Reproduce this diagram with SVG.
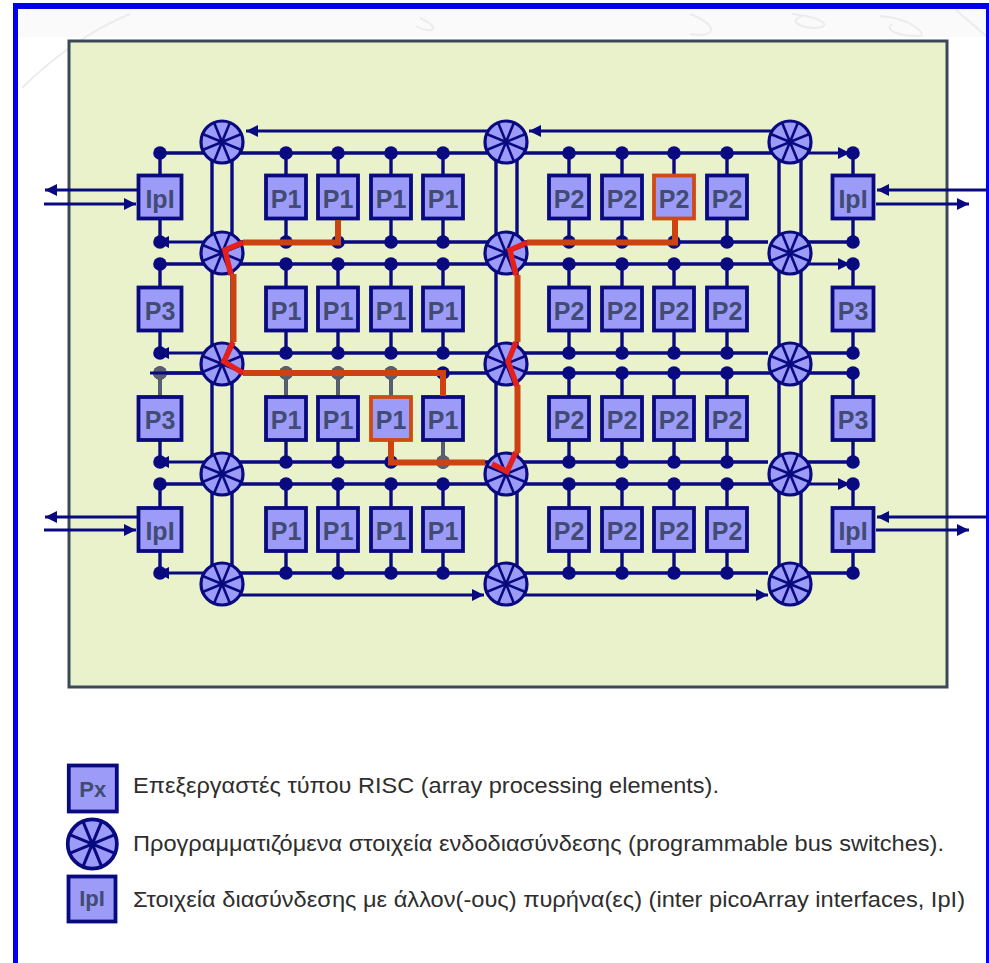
<svg xmlns="http://www.w3.org/2000/svg" width="989" height="963" viewBox="0 0 989 963">
<style>
.w{fill:none;stroke:#0a0a80;stroke-width:3.4}
.t{fill:none;stroke:#0a0a80;stroke-width:3}
.g{fill:none;stroke:#5a5f6c;stroke-width:3.4}
.b{fill:#9c9cf8;stroke:#0a0a80;stroke-width:3.8}
.h{fill:#9c9cf8;stroke:#cf4a14;stroke-width:3.8}
.l{font-family:"Liberation Sans",Arial,sans-serif;font-weight:bold;font-size:25px;fill:#414b74;text-anchor:middle}
.c{font-family:"Liberation Sans",Arial,sans-serif;font-size:22px;fill:#2e2e2e}
.r{fill:none;stroke:#cc4210;stroke-width:6;stroke-linejoin:miter}
.q{fill:none;stroke:#e4201c;stroke-width:5.5;stroke-linejoin:miter}
.s{fill:none;stroke:#ececee;stroke-width:2}
.d{fill:#0a0a80}
</style>
<defs>
<marker id="ah" viewBox="0 0 12 12" refX="12" refY="6" markerWidth="12" markerHeight="12" markerUnits="userSpaceOnUse" orient="auto"><path d="M0 0L12 6L0 12Z" fill="#0a0a80"/></marker>
<g id="sw"><circle r="21" fill="#9c9cf8" stroke="#0a0a80" stroke-width="3.2"/><path d="M-19.4-8L19.4 8M-19.4 8L19.4-8M-8-19.4L8 19.4M8-19.4L-8 19.4" fill="none" stroke="#0a0a80" stroke-width="2.6"/></g>
<path id="st" class="w" d="M0 153V174M0 220V242M0 264V286M0 332V353M0 373V396M0 441V462M0 484V507M0 552V573"/>
<g id="dt" class="d"><circle cy="153" r="6.8"/><circle cy="242" r="6.8"/><circle cy="264" r="6.8"/><circle cy="353" r="6.8"/><circle cy="373" r="6.8"/><circle cy="462" r="6.8"/><circle cy="484" r="6.8"/><circle cy="573" r="6.8"/></g>
</defs>
<rect width="989" height="963" fill="#fff"/>
<g id="backdrop">
<rect x="18" y="9" width="968" height="28" fill="#fafafb"/>
<path class="s" d="M690 14C720 26 716 38 690 34M792 14C826 18 834 28 812 28C796 26 790 20 802 16M880 16C914 18 930 38 918 36C898 36 884 30 892 24M956 10L986 36M130 14C90 30 50 60 22 88M420 18C446 30 428 34 416 26"/>
</g>
<rect id="panel" x="69" y="41" width="878" height="646" fill="#e9f2cb" stroke="#3c4858" stroke-width="3"/>
<g id="connectors">
<use href="#st" x="160"/><use href="#st" x="286"/><use href="#st" x="338"/><use href="#st" x="391"/><use href="#st" x="443"/><use href="#st" x="569"/><use href="#st" x="622"/><use href="#st" x="674"/><use href="#st" x="727"/><use href="#st" x="853"/>
<use href="#dt" x="160"/><use href="#dt" x="286"/><use href="#dt" x="338"/><use href="#dt" x="391"/><use href="#dt" x="443"/><use href="#dt" x="569"/><use href="#dt" x="622"/><use href="#dt" x="674"/><use href="#dt" x="727"/><use href="#dt" x="853"/>
<path class="w" d="M160 153H790M160 264H790M160 373H790M160 484H790M222 242H768M222 353H768M222 462H768M222 573H768M790 242H853M790 353H853M790 373H853M790 462H853M790 573H853M212 142V584M232 142V584M496 142V584M517 142V584M779 142V584M801 142V584"/>
<path class="t" marker-end="url(#ah)" d="M790 153H850"/><path class="t" marker-end="url(#ah)" d="M790 264H850"/><path class="t" marker-end="url(#ah)" d="M790 484H850"/>
<path class="t" marker-end="url(#ah)" d="M222 242H157"/><path class="t" marker-end="url(#ah)" d="M222 353H157"/><path class="t" marker-end="url(#ah)" d="M222 462H157"/><path class="t" marker-end="url(#ah)" d="M222 573H157"/>
<path class="t" marker-end="url(#ah)" d="M790 131H529"/><path class="t" marker-end="url(#ah)" d="M506 131H246"/>
<path class="t" marker-end="url(#ah)" d="M222 595H484"/><path class="t" marker-end="url(#ah)" d="M506 595H768"/>
<path class="t" marker-end="url(#ah)" d="M137 190H45"/><path class="t" marker-end="url(#ah)" d="M44 204H136"/>
<path class="t" marker-end="url(#ah)" d="M137 517H45"/><path class="t" marker-end="url(#ah)" d="M44 530H136"/>
<path class="t" marker-end="url(#ah)" d="M988 190H877"/><path class="t" marker-end="url(#ah)" d="M876 204H969"/>
<path class="t" marker-end="url(#ah)" d="M988 517H877"/><path class="t" marker-end="url(#ah)" d="M876 530H969"/>
<g id="dimmed">
<path class="g" d="M160 373V396M286 373V396M338 373V396M391 373V396M443 441V462"/>
<g fill="#5a5f6c"><circle cx="160" cy="373" r="6.8"/><circle cx="286" cy="373" r="6.8"/><circle cx="338" cy="373" r="6.8"/><circle cx="391" cy="373" r="6.8"/><circle cx="443" cy="462" r="6.8"/></g>
<path class="t" d="M150 373H212"/>
</g>
</g>
<g id="sw1"><use href="#sw" x="222" y="142"/></g>
<g id="sw2"><use href="#sw" x="222" y="253"/></g>
<g id="sw3"><use href="#sw" x="222" y="364"/></g>
<g id="sw4"><use href="#sw" x="222" y="474"/></g>
<g id="sw5"><use href="#sw" x="222" y="584"/></g>
<g id="sw6"><use href="#sw" x="506" y="142"/></g>
<g id="sw7"><use href="#sw" x="506" y="253"/></g>
<g id="sw8"><use href="#sw" x="506" y="364"/></g>
<g id="sw9"><use href="#sw" x="506" y="474"/></g>
<g id="sw10"><use href="#sw" x="506" y="584"/></g>
<g id="sw11"><use href="#sw" x="790" y="142"/></g>
<g id="sw12"><use href="#sw" x="790" y="253"/></g>
<g id="sw13"><use href="#sw" x="790" y="364"/></g>
<g id="sw14"><use href="#sw" x="790" y="474"/></g>
<g id="sw15"><use href="#sw" x="790" y="584"/></g>
<g id="ipl1" transform="translate(160 197)"><rect class="b" x="-21.5" y="-21.5" width="43" height="43"/><text class="l" y="10.5">IpI</text></g>
<g id="p3a" transform="translate(160 309)"><rect class="b" x="-21.5" y="-21.5" width="43" height="43"/><text class="l" y="10.5">P3</text></g>
<g id="p3b" transform="translate(160 418.5)"><rect class="b" x="-21.5" y="-21.5" width="43" height="43"/><text class="l" y="10.5">P3</text></g>
<g id="ipl2" transform="translate(160 529.5)"><rect class="b" x="-21.5" y="-21.5" width="43" height="43"/><text class="l" y="10.5">IpI</text></g>
<g id="ipl3" transform="translate(853 197)"><rect class="b" x="-20.5" y="-21.5" width="41" height="43"/><text class="l" y="10.5">IpI</text></g>
<g id="p3c" transform="translate(853 309)"><rect class="b" x="-20.5" y="-21.5" width="41" height="43"/><text class="l" y="10.5">P3</text></g>
<g id="p3d" transform="translate(853 418.5)"><rect class="b" x="-20.5" y="-21.5" width="41" height="43"/><text class="l" y="10.5">P3</text></g>
<g id="ipl4" transform="translate(853 529.5)"><rect class="b" x="-20.5" y="-21.5" width="41" height="43"/><text class="l" y="10.5">IpI</text></g>
<g id="a11" transform="translate(286 197)"><rect class="b" x="-20" y="-21.5" width="40" height="43"/><text class="l" y="10.5">P1</text></g>
<g id="a12" transform="translate(338 197)"><rect class="b" x="-20" y="-21.5" width="40" height="43"/><text class="l" y="10.5">P1</text></g>
<g id="a13" transform="translate(391 197)"><rect class="b" x="-20" y="-21.5" width="40" height="43"/><text class="l" y="10.5">P1</text></g>
<g id="a14" transform="translate(443 197)"><rect class="b" x="-20" y="-21.5" width="40" height="43"/><text class="l" y="10.5">P1</text></g>
<g id="a21" transform="translate(286 309)"><rect class="b" x="-20" y="-21.5" width="40" height="43"/><text class="l" y="10.5">P1</text></g>
<g id="a22" transform="translate(338 309)"><rect class="b" x="-20" y="-21.5" width="40" height="43"/><text class="l" y="10.5">P1</text></g>
<g id="a23" transform="translate(391 309)"><rect class="b" x="-20" y="-21.5" width="40" height="43"/><text class="l" y="10.5">P1</text></g>
<g id="a24" transform="translate(443 309)"><rect class="b" x="-20" y="-21.5" width="40" height="43"/><text class="l" y="10.5">P1</text></g>
<g id="a31" transform="translate(286 418.5)"><rect class="b" x="-20" y="-21.5" width="40" height="43"/><text class="l" y="10.5">P1</text></g>
<g id="a32" transform="translate(338 418.5)"><rect class="b" x="-20" y="-21.5" width="40" height="43"/><text class="l" y="10.5">P1</text></g>
<g id="a33" transform="translate(391 418.5)"><rect class="h" x="-20" y="-21.5" width="40" height="43"/><text class="l" y="10.5">P1</text></g>
<g id="a34" transform="translate(443 418.5)"><rect class="b" x="-20" y="-21.5" width="40" height="43"/><text class="l" y="10.5">P1</text></g>
<g id="a41" transform="translate(286 529.5)"><rect class="b" x="-20" y="-21.5" width="40" height="43"/><text class="l" y="10.5">P1</text></g>
<g id="a42" transform="translate(338 529.5)"><rect class="b" x="-20" y="-21.5" width="40" height="43"/><text class="l" y="10.5">P1</text></g>
<g id="a43" transform="translate(391 529.5)"><rect class="b" x="-20" y="-21.5" width="40" height="43"/><text class="l" y="10.5">P1</text></g>
<g id="a44" transform="translate(443 529.5)"><rect class="b" x="-20" y="-21.5" width="40" height="43"/><text class="l" y="10.5">P1</text></g>
<g id="b11" transform="translate(569 197)"><rect class="b" x="-20" y="-21.5" width="40" height="43"/><text class="l" y="10.5">P2</text></g>
<g id="b12" transform="translate(622 197)"><rect class="b" x="-20" y="-21.5" width="40" height="43"/><text class="l" y="10.5">P2</text></g>
<g id="b13" transform="translate(674 197)"><rect class="h" x="-20" y="-21.5" width="40" height="43"/><text class="l" y="10.5">P2</text></g>
<g id="b14" transform="translate(727 197)"><rect class="b" x="-20" y="-21.5" width="40" height="43"/><text class="l" y="10.5">P2</text></g>
<g id="b21" transform="translate(569 309)"><rect class="b" x="-20" y="-21.5" width="40" height="43"/><text class="l" y="10.5">P2</text></g>
<g id="b22" transform="translate(622 309)"><rect class="b" x="-20" y="-21.5" width="40" height="43"/><text class="l" y="10.5">P2</text></g>
<g id="b23" transform="translate(674 309)"><rect class="b" x="-20" y="-21.5" width="40" height="43"/><text class="l" y="10.5">P2</text></g>
<g id="b24" transform="translate(727 309)"><rect class="b" x="-20" y="-21.5" width="40" height="43"/><text class="l" y="10.5">P2</text></g>
<g id="b31" transform="translate(569 418.5)"><rect class="b" x="-20" y="-21.5" width="40" height="43"/><text class="l" y="10.5">P2</text></g>
<g id="b32" transform="translate(622 418.5)"><rect class="b" x="-20" y="-21.5" width="40" height="43"/><text class="l" y="10.5">P2</text></g>
<g id="b33" transform="translate(674 418.5)"><rect class="b" x="-20" y="-21.5" width="40" height="43"/><text class="l" y="10.5">P2</text></g>
<g id="b34" transform="translate(727 418.5)"><rect class="b" x="-20" y="-21.5" width="40" height="43"/><text class="l" y="10.5">P2</text></g>
<g id="b41" transform="translate(569 529.5)"><rect class="b" x="-20" y="-21.5" width="40" height="43"/><text class="l" y="10.5">P2</text></g>
<g id="b42" transform="translate(622 529.5)"><rect class="b" x="-20" y="-21.5" width="40" height="43"/><text class="l" y="10.5">P2</text></g>
<g id="b43" transform="translate(674 529.5)"><rect class="b" x="-20" y="-21.5" width="40" height="43"/><text class="l" y="10.5">P2</text></g>
<g id="b44" transform="translate(727 529.5)"><rect class="b" x="-20" y="-21.5" width="40" height="43"/><text class="l" y="10.5">P2</text></g>
<g id="routes">
<path class="r" d="M338 220V242.5H243"/><path class="q" d="M243 242.5L225 250L231 275"/><path class="r" d="M233.5 274V342"/><path class="q" d="M233 342L224 361.5L243 373"/><path class="r" d="M243 373H443V396"/>
<path class="r" d="M391 441V462.5H485"/><path class="q" d="M492 464L507 471.5L516 452"/><path class="r" d="M517.5 453V385"/><path class="q" d="M517 386L508 361.5L516 342"/><path class="r" d="M517.5 342V275"/><path class="q" d="M516 275L510 250L527 242.5"/><path class="r" d="M527 242.5H675V220"/>
</g>
<g id="legend-px" transform="translate(92.8 788.5)"><rect class="b" x="-24" y="-23" width="48" height="46"/><text class="l" y="8" style="font-size:22px">Px</text></g>
<g id="legend-switch" transform="translate(92.3 844)"><g transform="scale(1.17)"><use href="#sw"/></g></g>
<g id="legend-ipl" transform="translate(92 899)"><rect class="b" x="-23.5" y="-22.5" width="47" height="45"/><text class="l" y="7" style="font-size:22px">IpI</text></g>
<text class="c" x="133" y="793" textLength="586" lengthAdjust="spacingAndGlyphs">Επεξεργαστές τύπου RISC (array processing elements).</text>
<text class="c" x="133" y="851" textLength="811" lengthAdjust="spacingAndGlyphs">Προγραμματιζόμενα στοιχεία ενδοδιασύνδεσης (programmable bus switches).</text>
<text class="c" x="133" y="906.5" textLength="832" lengthAdjust="spacingAndGlyphs">Στοιχεία διασύνδεσης με άλλον(-ους) πυρήνα(ες) (inter picoArray interfaces, IpI)</text>
<g id="frame" fill="#0000f0"><rect x="13" y="3" width="976" height="6"/><rect x="13" y="3" width="5" height="960"/><rect x="986" y="3" width="3" height="960"/></g>
</svg>
